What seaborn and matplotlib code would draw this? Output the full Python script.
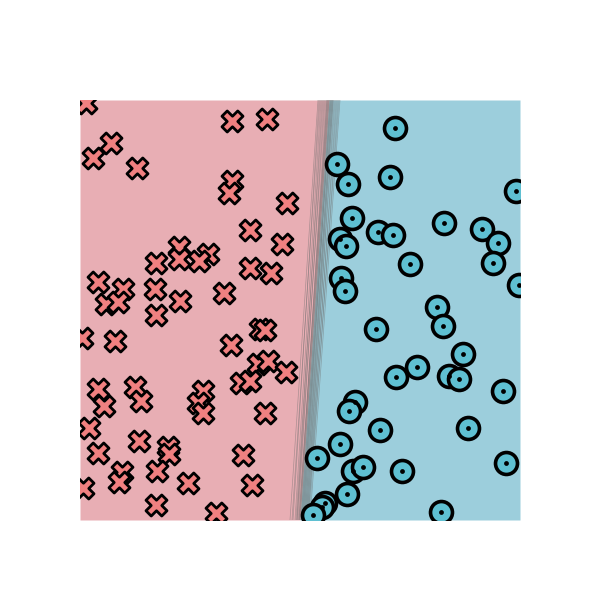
#! /usr/bin/env python3
# -*- coding: utf-8 -*-

import matplotlib
matplotlib.use('Agg')
import matplotlib.pyplot as plt
import numpy as np
import pandas as pd
import seaborn as sns

#Class 0 points (crosses)
x_cross = [-2.14, -0.68, -0.33, -1.89, -2.07, -1.63, -0.68, -0.71, -0.13, -0.50,
           -0.18, -1.21, -0.92, -1.21, -1.01, -1.44, -0.50, -0.29, -2.02, -1.77,
           -1.45, -1.94, -1.82, -0.76, -1.20, -1.44, -2.18, -1.85, -0.40, -0.35,
           -0.69, -0.42, -0.32, -0.14, -0.59, -0.50, -2.02, -1.65, -0.97, -1.96,
           -1.59, -1.02, -0.97, -0.35, -2.11, -1.61, -1.32, -1.31, -2.02, -0.57,
           -1.43, -1.78, -1.81, -1.12, -0.48, -2.17, -1.44, -0.84]
y_cross = [2.07, 1.89, 1.91, 1.67, 1.52, 1.42, 1.29, 1.17, 1.07, 0.80,
           0.66, 0.63, 0.56, 0.51, 0.49, 0.47, 0.42, 0.37, 0.28, 0.21,
           0.21, 0.06, 0.08, 0.17, 0.09, -0.05, -0.28, -0.31, -0.19, -0.20,
           -0.35, -0.54, -0.51, -0.62, -0.73, -0.71, -0.79, -0.77, -0.81, -0.96,
           -0.91, -0.93, -1.03, -1.03, -1.18, -1.31, -1.37, -1.44, -1.43, -1.45,
           -1.61, -1.62, -1.72, -1.73, -1.75, -1.78, -1.95, -2.03]

#Class 1 points (circles)
x_circ = [0.95, 0.37, 0.48, 0.90, 2.16, 0.52, 0.78, 0.93, 1.44, 1.82,
          1.98, 0.40, 0.46, 1.10, 1.93, 2.19, 0.41, 0.45, 1.37, 1.43,
          0.76, 1.63, 1.17, 0.96, 1.49, 1.59, 2.03, 0.55, 0.49, 0.80,
          1.68, 0.40, 0.17, 0.53, 0.63, 1.02, 2.06, 0.47, 0.25, 0.22,
          0.13, 1.41]
y_circ = [1.82, 1.46, 1.26, 1.33, 1.19, 0.92, 0.78, 0.75, 0.87, 0.81,
          0.67, 0.71, 0.64, 0.46, 0.47, 0.25, 0.32, 0.19, 0.03, -0.16,
          -0.19, -0.44, -0.57, -0.67, -0.66, -0.69, -0.81, -0.92, -1.01, -1.20,
          -1.18, -1.34, -1.48, -1.61, -1.57, -1.61, -1.53, -1.84, -1.93, -1.97,
          -2.05, -2.02]

#Sampled decision boundaries: x at bottom / top of the plot
bound_y = [-2.1, 2.1]
bound_bot = [-0.10, -0.07, -0.08, -0.05, -0.03, -0.04, -0.02, -0.03, 0.00, -0.01,
             0.01, -0.01, 0.02, 0.00, 0.03, 0.01, 0.04, 0.02, 0.03, 0.05,
             0.04, 0.06, 0.05, 0.07, 0.06, 0.08, 0.07, 0.09, 0.08, 0.10]
bound_top = [0.18, 0.19, 0.20, 0.21, 0.22, 0.23, 0.24, 0.25, 0.26, 0.27,
             0.27, 0.28, 0.28, 0.29, 0.29, 0.30, 0.30, 0.31, 0.31, 0.32,
             0.32, 0.33, 0.33, 0.34, 0.35, 0.36, 0.37, 0.38, 0.39, 0.40]
#Mean boundary used for the shaded regions
mean_bound = [0.0, 0.29]

xlim = (-2.2, 2.2)
ylim = (-2.1, 2.1)

fig = plt.figure(figsize=(6, 6), dpi=100)
ax = fig.add_axes([80/600, 80/600, 440/600, 420/600])

#Shaded class regions
ax.fill_betweenx(bound_y, [xlim[0]]*2, mean_bound, color='#e8aeb4', lw=0)
ax.fill_betweenx(bound_y, mean_bound, [xlim[1]]*2, color='#9ccedc', lw=0)

#Boundary samples
rows = []
for i in range(len(bound_top)):
    rows.append({'id': i, 'x': bound_bot[i], 'y': bound_y[0]})
    rows.append({'id': i, 'x': bound_top[i], 'y': bound_y[1]})
bdf = pd.DataFrame(rows)
sns.lineplot(data=bdf, x='x', y='y', units='id', estimator=None, sort=False,
             color='#6e6e6e', alpha=0.5, lw=0.5, ax=ax, legend=False)

#Points
sns.scatterplot(x=x_cross, y=y_cross, marker='X', s=230, color='#f08080',
                edgecolor='black', linewidth=2.0, ax=ax, zorder=3)
sns.scatterplot(x=x_circ, y=y_circ, marker='o', s=250, color='#5fc0d2',
                edgecolor='black', linewidth=2.6, ax=ax, zorder=3)
sns.scatterplot(x=x_circ, y=y_circ, marker='o', s=12, color='black',
                edgecolor='black', linewidth=0, ax=ax, zorder=4)

ax.set_xlim(xlim)
ax.set_ylim(ylim)
ax.axis('off')
fig.savefig('out.png', format='png')
plt.close()
